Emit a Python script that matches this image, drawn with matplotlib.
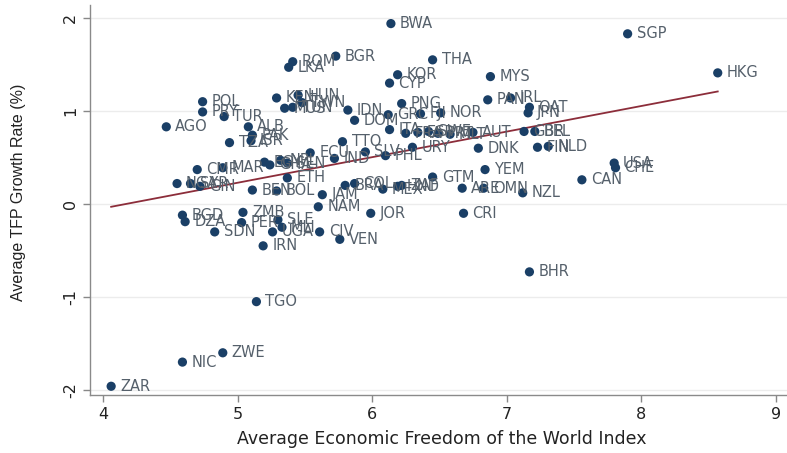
import matplotlib
matplotlib.use("Agg")
import matplotlib.pyplot as plt

plt.rcParams['font.family'] = ['DejaVu Sans']

countries = ["BWA", "SGP", "HKG", "THA", "BGR", "ROM", "LKA", "KOR", "CYP", "MYS",
             "POL", "PRY", "TUR", "KEN", "HUN", "TWN", "MUS", "TUN", "IDN", "DOM",
             "PNG", "GRC", "FJI", "NOR", "PAN", "IRL", "QAT", "JPN", "ITA", "FRA",
             "ESP", "SWE", "PRT", "MLT", "AUT", "GBR", "BEL", "FIN", "NLD", "DNK",
             "USA", "CHE", "CAN", "YEM", "ARE", "OMN", "NZL", "CRI", "BHR", "GTM",
             "JOR", "VEN", "CIV", "NAM", "JAM", "MEX", "ZAF", "BRA", "COL", "HND",
             "TTO", "URY", "ECU", "PHL", "SLV", "IND", "ETH", "CMR", "MAR", "EGY",
             "GHA", "NPL", "SEN", "ALB", "PAK", "ISR", "TZA", "AGO", "NGA", "SYR",
             "GIN", "BEN", "BOL", "BGD", "DZA", "ZMB", "PER", "SDN", "SLE", "MLI",
             "UGA", "IRN", "TGO", "ZWE", "NIC", "ZAR"]

efw = [6.14, 7.90, 8.57, 6.45, 5.73, 5.41, 5.38, 6.19, 6.13, 6.88,
       4.74, 4.74, 4.90, 5.29, 5.45, 5.48, 5.35, 5.41, 5.82, 5.87,
       6.22, 6.12, 6.36, 6.51, 6.86, 7.03, 7.17, 7.16, 6.13, 6.25,
       6.34, 6.42, 6.49, 6.58, 6.75, 7.13, 7.21, 7.23, 7.31, 6.79,
       7.80, 7.81, 7.56, 6.84, 6.67, 6.83, 7.12, 6.68, 7.17, 6.45,
       5.99, 5.76, 5.61, 5.60, 5.63, 6.08, 6.22, 5.80, 5.87, 6.19,
       5.78, 6.30, 5.54, 6.10, 5.95, 5.72, 5.37, 4.70, 4.89, 5.20,
       5.24, 5.32, 5.37, 5.08, 5.11, 5.10, 4.94, 4.47, 4.55, 4.65,
       4.72, 5.11, 5.29, 4.59, 4.61, 5.04, 5.03, 4.83, 5.30, 5.33,
       5.26, 5.19, 5.14, 4.89, 4.59, 4.06]

tfp = [1.94, 1.83, 1.41, 1.55, 1.59, 1.53, 1.47, 1.39, 1.30, 1.37,
       1.10, 0.99, 0.94, 1.14, 1.17, 1.09, 1.03, 1.04, 1.01, 0.90,
       1.08, 0.96, 0.97, 0.98, 1.12, 1.14, 1.04, 0.98, 0.80, 0.76,
       0.77, 0.78, 0.76, 0.75, 0.77, 0.78, 0.78, 0.61, 0.62, 0.60,
       0.44, 0.39, 0.26, 0.37, 0.17, 0.17, 0.12, -0.10, -0.73, 0.29,
       -0.10, -0.38, -0.30, -0.03, 0.10, 0.16, 0.20, 0.20, 0.22, 0.19,
       0.67, 0.61, 0.55, 0.52, 0.56, 0.49, 0.28, 0.37, 0.39, 0.45,
       0.42, 0.47, 0.44, 0.83, 0.74, 0.68, 0.66, 0.83, 0.22, 0.22,
       0.19, 0.15, 0.14, -0.12, -0.19, -0.09, -0.20, -0.30, -0.17, -0.25,
       -0.30, -0.45, -1.05, -1.60, -1.70, -1.96]

fit_x = [4.06, 8.57]
fit_y = [-0.03, 1.21]

x_ticks = [4, 5, 6, 7, 8, 9]
y_ticks = [-2, -1, 0, 1, 2]

fig = plt.figure(figsize=(7.87, 4.53), dpi=100)
ax = fig.add_axes([0.1144, 0.128, 0.8856, 0.861])

for yt in y_ticks:
    ax.axhline(yt, color='#ececec', lw=1.0, zorder=0)

ax.scatter(efw, tfp, s=44, color='#1a3f66', zorder=3, edgecolors='none')
for c, xv, yv in zip(countries, efw, tfp):
    ax.annotate(c, (xv, yv), xytext=(6.5, 0), textcoords='offset points',
                va='center', ha='left', fontsize=10.5, color='#55606b', zorder=4)

ax.plot(fit_x, fit_y, color='#8c2d3a', lw=1.3, zorder=2)

ax.set_xlim(3.903, 9.085)
ax.set_ylim(-2.054, 2.14)
ax.set_xticks(x_ticks)
ax.set_yticks(y_ticks)
ax.set_yticklabels([str(v) for v in y_ticks], rotation=90, va='center')
ax.tick_params(axis='both', colors='#888888', labelcolor='#222222', labelsize=11.5,
               length=5, width=1, direction='out')

for side in ['top', 'right']:
    ax.spines[side].set_visible(False)
for side in ['left', 'bottom']:
    ax.spines[side].set_color('#8a8a8a')
    ax.spines[side].set_linewidth(1.0)

ax.set_xlabel('Average Economic Freedom of the World Index', fontsize=12.5, color='#222222')
ax.set_ylabel('Average TFP Growth Rate (%)', fontsize=11.5, color='#222222',
              family=['Liberation Sans', 'DejaVu Sans'])
ax.xaxis.set_label_coords(0.505, -0.09)
ax.yaxis.set_label_coords(-0.092, 0.52)

fig.savefig('out.png', dpi=100)
